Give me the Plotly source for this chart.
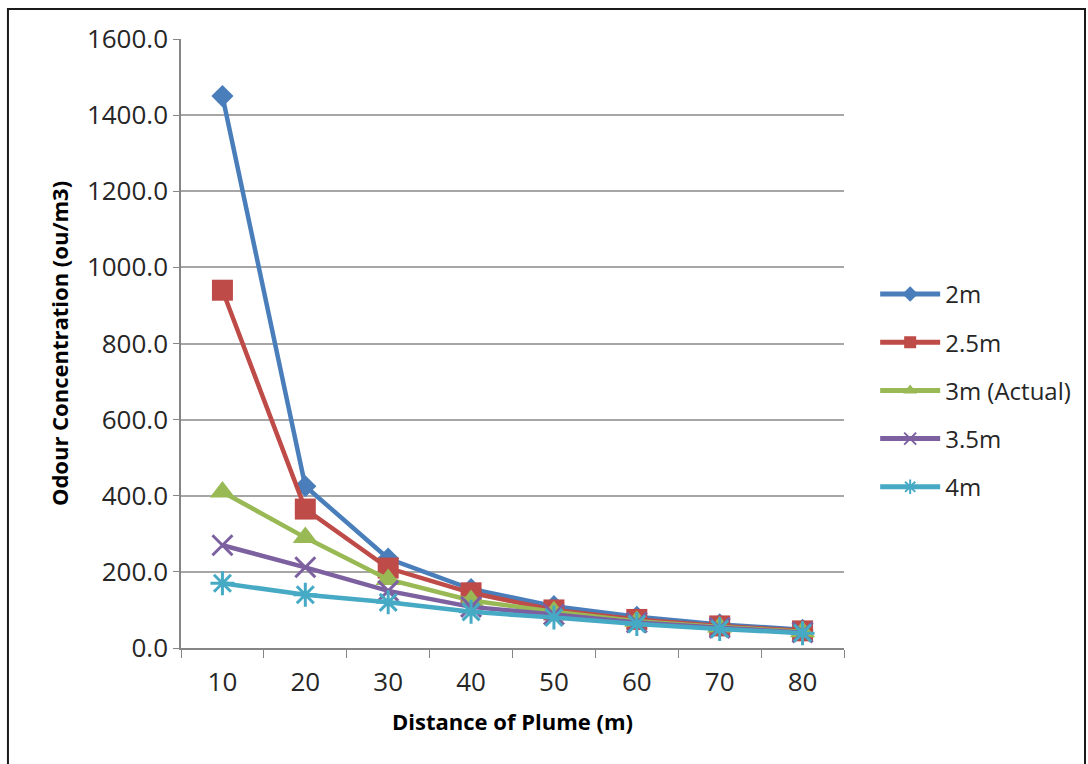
import plotly.graph_objects as go

# Distance along the plume (m) and modelled odour concentration (ou/m3) per release height
distances = ["10", "20", "30", "40", "50", "60", "70", "80"]
conc_2m = [1450, 425, 235, 155, 110, 82, 62, 48]
conc_2_5m = [940, 365, 210, 145, 100, 75, 58, 45]
conc_3m = [410, 290, 180, 125, 95, 70, 55, 43]
conc_3_5m = [270, 212, 150, 108, 88, 67, 53, 41]
conc_4m = [170, 140, 120, 95, 80, 63, 50, 39]

series_names = ["2m", "2.5m", "3m (Actual)", "3.5m", "4m"]
y_ticks = [0, 200, 400, 600, 800, 1000, 1200, 1400, 1600]

FONT = "Open Sans"

styles = [
    dict(color="#4a7ebb", symbol="diamond", size=17, line=dict(width=0)),
    dict(color="#be4b48", symbol="square", size=21, line=dict(width=0)),
    dict(color="#98b954", symbol="triangle-up", size=22, line=dict(width=0)),
    dict(color="#7d60a0", symbol="x-thin", size=20, line=dict(width=3, color="#7d60a0")),
    dict(color="#46aac5", symbol="asterisk", size=20, line=dict(width=3, color="#46aac5")),
]

fig = go.Figure()
for i, (name, vals, st) in enumerate(zip(series_names,
                                         [conc_2m, conc_2_5m, conc_3m, conc_3_5m, conc_4m],
                                         styles)):
    fig.add_trace(go.Scatter(
        x=distances, y=vals, name=name, mode="lines+markers",
        line=dict(color=st["color"], width=4.5),
        marker=dict(symbol=st["symbol"], size=st["size"], color=st["color"], line=st["line"]),
        legendgroup=f"g{i}",
    ))

fig.update_layout(
    width=1088, height=764,
    margin=dict(l=181, r=244, t=39, b=116, autoexpand=False),
    paper_bgcolor="white", plot_bgcolor="white",
    font=dict(family=FONT, size=26, color="#262626"),
    showlegend=True,
    legend=dict(x=1.047, y=0.423, xanchor="left", yanchor="middle",
                font=dict(family=FONT, size=24, color="#262626"),
                itemwidth=60, itemsizing="constant",
                tracegroupgap=14, bgcolor="rgba(0,0,0,0)"),
    xaxis=dict(
        type="category", range=[-0.5, 7.5],
        showline=True, linecolor="#868686", linewidth=1.5,
        ticks="outside", tickson="boundaries", ticklen=8, tickcolor="#868686",
        ticklabelstandoff=10,
        showgrid=False, zeroline=False,
        tickfont=dict(family=FONT, size=26, color="#262626"),
        title=dict(text="<b>Distance of Plume (m)</b>", standoff=17,
                   font=dict(family=FONT, size=22, color="#000000")),
    ),
    yaxis=dict(
        range=[0, 1600], tickvals=y_ticks,
        ticktext=[f"{v:.1f}" for v in y_ticks],
        showline=True, linecolor="#868686", linewidth=1.5,
        ticks="outside", ticklen=6, tickcolor="#868686",
        showgrid=True, gridcolor="#a6a6a6", gridwidth=1.5, zeroline=False,
        tickfont=dict(family=FONT, size=26, color="#262626"),
        title=dict(text="<b>Odour Concentration (ou/m3)</b>", standoff=12,
                   font=dict(family=FONT, size=22, color="#000000")),
    ),
    shapes=[dict(type="rect", xref="paper", yref="paper",
                 x0=-0.261, x1=1.3635, y0=-0.21, y1=1.0493,
                 line=dict(color="#1a1a1a", width=2), layer="below")],
)

fig.write_html("out.html")
